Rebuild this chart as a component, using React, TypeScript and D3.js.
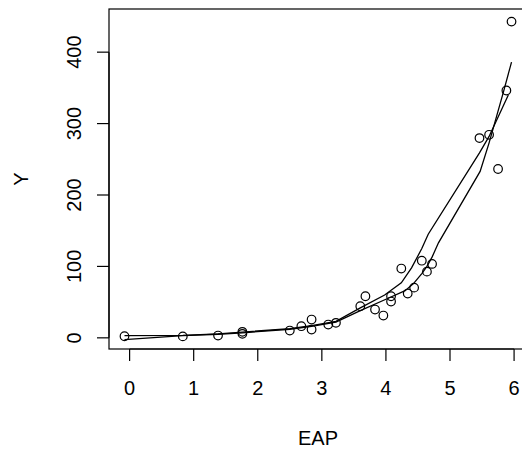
import React from "react";
import * as d3 from "d3";

// Scatter points (EAP, Y)
const pointX = [-0.08, 0.83, 1.38, 1.76, 1.76, 2.5, 2.68, 2.84, 2.84, 3.10, 3.22, 3.60, 3.68, 3.83, 3.96, 4.08, 4.08, 4.24, 4.34, 4.44, 4.56, 4.64, 4.72, 5.46, 5.61, 5.75, 5.88, 5.96];
const pointY = [2.2, 2, 3.2, 8.4, 5.6, 10.2, 16.3, 25.6, 11.6, 18.6, 21, 44.2, 58.2, 39.6, 31.2, 58.2, 50.8, 97, 62, 70.3, 108, 92.7, 103.5, 279.7, 284.3, 236.4, 346.3, 442.8];

// Fitted curve A (ends highest)
const fitAX = [-0.08, 0.83, 1.38, 1.76, 2.5, 2.84, 3.22, 3.6, 4.0, 4.3, 4.43, 4.56, 4.64, 4.72, 4.82, 5.47, 5.61, 5.83, 5.96];
const fitAY = [-2.4, 3, 5, 7, 12, 16, 22, 38, 54, 66, 76, 90, 100, 113, 133, 233, 273, 343, 386];

// Smooth curve B
const fitBX = [-0.08, 0.83, 1.38, 1.76, 2.5, 2.84, 3.22, 3.6, 3.98, 4.24, 4.40, 4.56, 4.66, 5.46, 5.61, 5.91];
const fitBY = [3, 3.5, 5.5, 8, 13, 17, 23, 42, 60, 77, 98, 125, 145, 259, 282, 340];

const xTicks = [0, 1, 2, 3, 4, 5, 6];
const yTicks = [0, 100, 200, 300, 400];

const W = 522, H = 452;
const plotL = 109, plotR = 527, plotT = 9, plotB = 349;
const FONT = "'Liberation Sans', Arial, Helvetica, sans-serif";

function pad(ext: [number, number]): [number, number] {
  const r = ext[1] - ext[0];
  return [ext[0] - 0.04 * r, ext[1] + 0.04 * r];
}

export default function App() {
  const x = d3.scaleLinear().domain(pad(d3.extent(pointX) as [number, number])).range([plotL, plotR]);
  const y = d3.scaleLinear().domain(pad(d3.extent(pointY) as [number, number])).range([plotB, plotT]);
  const line = d3.line<[number, number]>().x(d => x(d[0])).y(d => y(d[1]));
  const lineA = line(fitAX.map((v, i) => [v, fitAY[i]] as [number, number])) || "";
  const lineB = line(fitBX.map((v, i) => [v, fitBY[i]] as [number, number])) || "";
  const tickLen = 12;
  const fs = 20;
  return (
    <div style={{ position: "absolute", left: 0, top: 0, width: W, height: H, overflow: "hidden", background: "#fff" }}>
      <svg width={W} height={H} style={{ display: "block" }} fontFamily={FONT}>
        <rect x={0} y={0} width={W} height={H} fill="#fff" />
        <rect x={plotL} y={plotT} width={plotR - plotL} height={plotB - plotT} fill="none" stroke="#000" strokeWidth={1.2} />
        <path d={lineA} fill="none" stroke="#000" strokeWidth={1.3} />
        <path d={lineB} fill="none" stroke="#000" strokeWidth={1.3} />
        {pointX.map((v, i) => (
          <circle key={i} cx={x(v)} cy={y(pointY[i])} r={4.3} fill="none" stroke="#000" strokeWidth={1.2} />
        ))}
        {/* x axis */}
        <line x1={x(xTicks[0])} x2={x(xTicks[xTicks.length - 1])} y1={plotB} y2={plotB} stroke="#000" strokeWidth={1.2} />
        {xTicks.map(t => (
          <g key={t}>
            <line x1={x(t)} x2={x(t)} y1={plotB} y2={plotB + tickLen} stroke="#000" strokeWidth={1.2} />
            <text x={x(t)} y={395} textAnchor="middle" fontSize={fs} fill="#000">{t}</text>
          </g>
        ))}
        {/* y axis */}
        <line x1={plotL} x2={plotL} y1={y(yTicks[0])} y2={y(yTicks[yTicks.length - 1])} stroke="#000" strokeWidth={1.2} />
        {yTicks.map(t => (
          <g key={t}>
            <line x1={plotL - tickLen} x2={plotL} y1={y(t)} y2={y(t)} stroke="#000" strokeWidth={1.2} />
            <text transform={`translate(80.5,${y(t)}) rotate(-90)`} textAnchor="middle" fontSize={fs} fill="#000">{t}</text>
          </g>
        ))}
        <text x={(plotL + plotR) / 2} y={445} textAnchor="middle" fontSize={fs} fill="#000">EAP</text>
        <text transform={`translate(28.3,${(plotT + plotB) / 2}) rotate(-90)`} textAnchor="middle" fontSize={fs} fill="#000">Y</text>
      </svg>
    </div>
  );
}
